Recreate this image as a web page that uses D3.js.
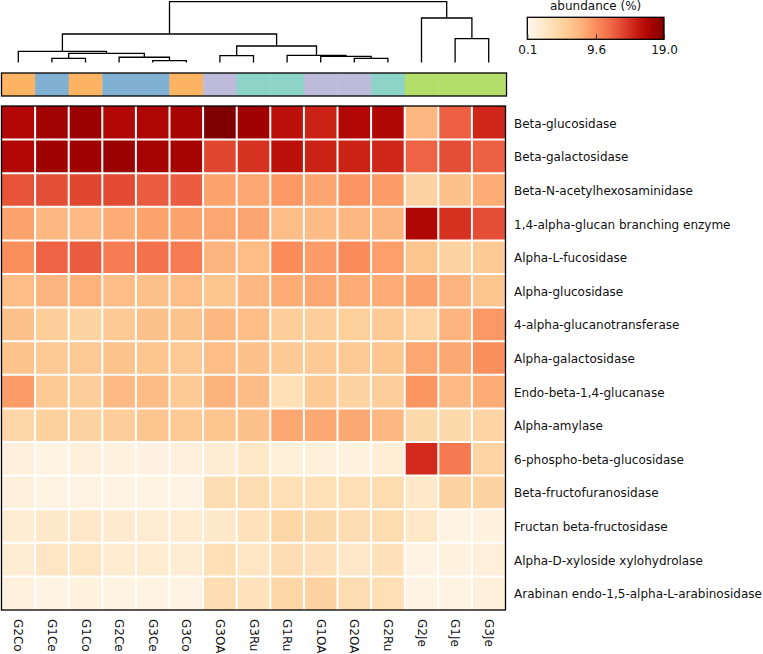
<!DOCTYPE html>
<html>
<head>
<meta charset="utf-8">
<script src="https://cdn.jsdelivr.net/npm/d3@7"></script>
<style>
  html, body { margin: 0; padding: 0; background: #fff; }
  svg { display: block; font-family: "DejaVu Sans", sans-serif; }
</style>
</head>
<body>
<svg id="chart" width="763" height="654"></svg>
<script>
// ---------------- DATA ----------------
const columns = ["G2Co","G1Ce","G1Co","G2Ce","G3Ce","G3Co","G3OA","G3Ru","G1Ru","G1OA","G2OA","G2Ru","G2Je","G1Je","G3Je"];
const groups  = ["Co","Ce","Co","Ce","Ce","Co","OA","Ru","Ru","OA","OA","Ru","Je","Je","Je"];
const groupNames  = ["Co","Ce","OA","Ru","Je"];
const groupColors = ["#fdb462","#80b1d3","#bebada","#8dd3c7","#b3de69"];

const enzymes = [
  "Beta-glucosidase",
  "Beta-galactosidase",
  "Beta-N-acetylhexosaminidase",
  "1,4-alpha-glucan branching enzyme",
  "Alpha-L-fucosidase",
  "Alpha-glucosidase",
  "4-alpha-glucanotransferase",
  "Alpha-galactosidase",
  "Endo-beta-1,4-glucanase",
  "Alpha-amylase",
  "6-phospho-beta-glucosidase",
  "Beta-fructofuranosidase",
  "Fructan beta-fructosidase",
  "Alpha-D-xyloside xylohydrolase",
  "Arabinan endo-1,5-alpha-L-arabinosidase"
];

// abundance (%) per enzyme (rows), in column order
const abundance = [
  [16.6,17.4,17.7,16.6,16.8,17.1,19.0,17.5,16.0,15.0,16.6,16.7, 7.2,12.1,14.8],
  [16.6,17.5,17.5,17.7,17.2,17.2,13.3,14.2,16.0,15.0,15.0,14.8,11.9,12.9,12.0],
  [12.7,12.9,13.3,13.1,12.2,12.2, 8.4, 8.2, 9.0, 8.3, 9.2, 8.8, 4.8, 6.5, 7.9],
  [ 8.4, 7.2, 7.0, 7.9, 8.4, 8.4, 8.2, 8.3, 6.8, 6.9, 7.2, 7.4,16.7,14.3,12.9],
  [ 9.5,11.9,12.3,10.5,11.1,10.6, 7.4, 6.8, 9.7, 8.8, 9.7, 8.6, 6.1, 4.8, 5.8],
  [ 6.8, 7.4, 7.6, 6.8, 6.5, 6.8, 6.1, 7.2, 7.9, 8.2, 7.9, 7.9, 8.4, 7.4, 6.1],
  [ 6.5, 5.4, 4.8, 5.8, 6.5, 6.3, 7.2, 6.8, 5.4, 5.4, 5.2, 5.8, 4.7, 7.4, 9.0],
  [ 6.3, 5.8, 5.8, 6.3, 6.1, 5.8, 6.8, 6.5, 5.8, 5.8, 5.8, 6.1, 8.2, 8.1, 9.5],
  [ 8.8, 5.8, 5.4, 7.0, 6.9, 5.8, 7.5, 6.9, 3.5, 5.8, 4.8, 5.4, 9.1, 7.0, 7.9],
  [ 4.4, 5.0, 4.8, 5.4, 6.1, 5.8, 6.1, 6.5, 8.2, 8.1, 8.1, 7.2, 4.1, 4.1, 4.6],
  [ 1.2, 0.8, 1.2, 0.95,0.85,1.2, 1.7, 2.4, 1.4, 1.2, 0.95,1.5,14.6,10.7, 4.6],
  [ 1.2, 0.6, 0.65,0.8, 0.8, 0.65,3.7, 3.8, 3.5, 3.4, 3.5, 3.9, 2.4, 4.8, 4.8],
  [ 1.7, 2.2, 2.4, 2.0, 1.8, 1.9, 2.2, 3.1, 4.4, 4.1, 3.8, 3.9, 2.4, 0.65,0.95],
  [ 1.7, 2.7, 2.7, 1.9, 1.9, 1.7, 3.5, 2.7, 3.8, 3.2, 2.4, 3.2, 0.6, 0.95,1.3],
  [ 1.0, 0.6, 0.95,0.8, 0.8, 0.6, 3.7, 3.1, 4.4, 4.8, 3.8, 3.5, 0.65,0.8, 1.2]
];

// column dendrogram: [left, right, height] (relative linkage distance)
const dendrogram = [
  [
    [
      ["G2Co", [ ["G1Ce","G1Co",0.069], ["G2Ce", ["G3Ce","G3Co",0.030], 0.086], 0.151 ], 0.184],
      [ ["G3OA","G3Ru",0.112], ["G1Ru", ["G1OA", ["G2OA","G2Ru",0.069], 0.102], 0.118], 0.271 ],
      0.469
    ],
    ["G2Je", ["G1Je","G3Je",0.393], 0.732],
    1.0
  ]
][0];

const legendTicks = [0.1, 9.6, 19.0];
const legendTitle = "abundance (%)";
const colorDomain = [0.1, 19.0];

// ---------------- CHART ----------------
const svg = d3.select("#chart");

const x = d3.scaleBand().domain(columns).range([1.5, 505.5]).padding(0);
const y = d3.scaleBand().domain(enzymes).range([106, 610]).padding(0);
const color = d3.scaleSequential(d3.interpolateOrRd).domain(colorDomain);
const gColor = d3.scaleOrdinal().domain(groupNames).range(groupColors);
const hY = d3.scaleLinear().domain([0, 1]).range([62.5, 1.7]);

// heatmap cells
const cells = [];
enzymes.forEach((e, i) => columns.forEach((c, j) => cells.push({e, c, v: abundance[i][j]})));
svg.append("g").selectAll("rect").data(cells).join("rect")
  .attr("x", d => x(d.c)).attr("y", d => y(d.e))
  .attr("width", x.bandwidth()).attr("height", y.bandwidth())
  .attr("fill", d => color(d.v));

// white grid lines between cells
const grid = svg.append("g").attr("stroke", "#fff").attr("stroke-width", 2);
columns.slice(1).forEach(c => grid.append("line")
  .attr("x1", x(c)).attr("x2", x(c)).attr("y1", 106).attr("y2", 610));
enzymes.slice(1).forEach(e => grid.append("line")
  .attr("x1", 1.5).attr("x2", 505.5).attr("y1", y(e)).attr("y2", y(e)));

// heatmap frame
svg.append("rect").attr("x", 1.5).attr("y", 106).attr("width", 504).attr("height", 504)
  .attr("fill", "none").attr("stroke", "#000").attr("stroke-width", 1.3);

// row labels
svg.append("g").selectAll("text").data(enzymes).join("text")
  .attr("x", 514).attr("y", d => y(d) + y.bandwidth() / 2 + 1)
  .attr("dominant-baseline", "central")
  .attr("font-size", 12).attr("fill", "#111")
  .text(d => d);

// column labels (rotated)
svg.append("g").selectAll("text").data(columns).join("text")
  .attr("transform", d => `translate(${x(d) + x.bandwidth() / 2},619) rotate(90)`)
  .attr("dominant-baseline", "central")
  .attr("text-anchor", "start")
  .attr("font-size", 12).attr("fill", "#111")
  .text(d => d);

// group color bar
svg.append("g").selectAll("rect").data(columns).join("rect")
  .attr("x", d => x(d)).attr("y", 73)
  .attr("width", x.bandwidth() + 0.3).attr("height", 23)
  .attr("fill", (d, i) => gColor(groups[i]));
svg.append("rect").attr("x", 1.5).attr("y", 73).attr("width", 505).attr("height", 23)
  .attr("fill", "none").attr("stroke", "#000").attr("stroke-width", 1.3);

// dendrogram
function build(node) {
  if (typeof node === "string") return {name: node, h: 0, x: x(node) + x.bandwidth() / 2};
  const l = build(node[0]), r = build(node[1]);
  return {h: node[2], l, r, x: (l.x + r.x) / 2};
}
const root = build(dendrogram);
const segs = [];
(function walk(n) {
  if (!n.l) return;
  segs.push([[n.l.x, hY(n.l.h)], [n.l.x, hY(n.h)], [n.r.x, hY(n.h)], [n.r.x, hY(n.r.h)]]);
  walk(n.l); walk(n.r);
})(root);
svg.append("g").selectAll("path").data(segs).join("path")
  .attr("d", d3.line())
  .attr("fill", "none").attr("stroke", "#000").attr("stroke-width", 1.3);

// color legend
const lx = d3.scaleLinear().domain(colorDomain).range([527.3, 664]);
const defs = svg.append("defs");
const grad = defs.append("linearGradient").attr("id", "grad");
d3.range(0, 1.0001, 0.05).forEach(t => grad.append("stop")
  .attr("offset", t).attr("stop-color", color(colorDomain[0] + t * (colorDomain[1] - colorDomain[0]))));
svg.append("rect").attr("x", 527.3).attr("y", 17.3).attr("width", 664 - 527.3).attr("height", 22)
  .attr("fill", "url(#grad)").attr("stroke", "#000").attr("stroke-width", 1.3);
const ax = svg.append("g").attr("transform", "translate(0,39.3)")
  .call(d3.axisBottom(lx).tickValues(legendTicks).tickFormat(d3.format(".1f"))
    .tickSizeInner(-5).tickSizeOuter(0).tickPadding(6));
ax.select(".domain").remove();
ax.selectAll("line").attr("stroke", "#333");
ax.selectAll("text").attr("font-size", 12).attr("font-family", "DejaVu Sans, sans-serif").attr("fill", "#111");
svg.append("text").attr("x", (527.3 + 664) / 2).attr("y", 10)
  .attr("text-anchor", "middle").attr("font-size", 12).attr("fill", "#111")
  .text(legendTitle);
</script>
</body>
</html>
